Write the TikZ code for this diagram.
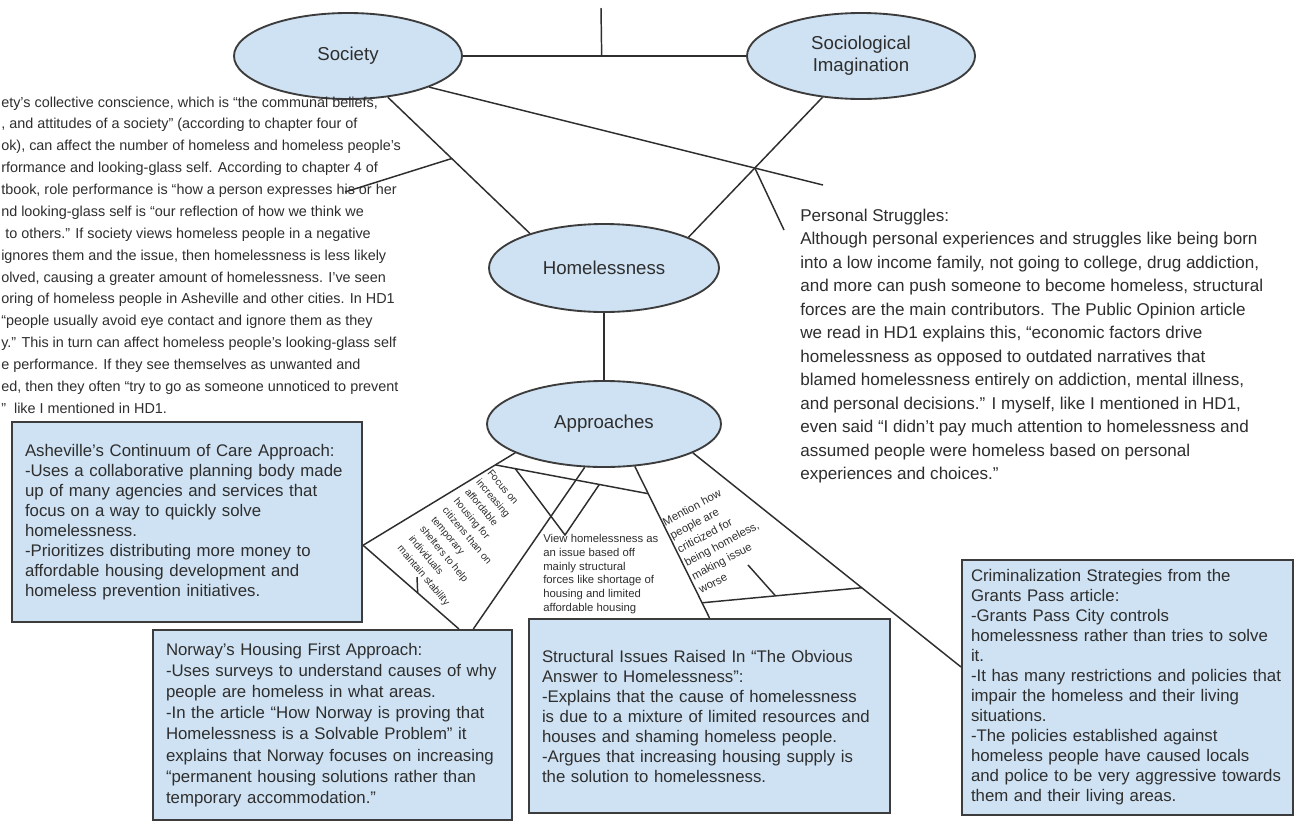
\documentclass[tikz,border=0pt]{standalone}
\usepackage{fontspec}
\setmainfont{Liberation Sans}
\usetikzlibrary{positioning, shapes.geometric, calc}
\definecolor{bubble}{HTML}{CFE2F3}
\definecolor{rim}{HTML}{3C3C3C}
\definecolor{ink}{HTML}{2E2E2E}
\hyphenpenalty=10000
\exhyphenpenalty=10000
\tikzset{
node distance=384.75pt, % centre to centre, used by right of
topic/.style={ellipse, draw=rim, fill=bubble, line width=1.4pt, text=ink, align=center,
    minimum width=171pt, minimum height=64.5pt, font=\fontsize{14}{16.5}\selectfont}, % the four ovals
notebox/.style={rectangle, draw=rim, fill=bubble, line width=1.6pt, text=ink, align=left,
    inner xsep=9.75pt, font=\fontsize{12.6}{15}\selectfont}, % the blue text boxes
note/.style={inner sep=0pt, text=ink, align=left}, % loose text
small note/.style={note, font=\fontsize{8.5}{11}\selectfont},
link/.style={draw=ink, line width=1.1pt},
}

\begin{document}
\begin{tikzpicture}[x=0.75pt, y=-0.75pt]
    \path[use as bounding box, fill=white] (0,0) rectangle (1295,822);

    \node[topic] (society) at (348,56) {Society};
    \node[topic, right of=society] (soc_imag) {Sociological\\Imagination};
    \node[topic, minimum width=172.5pt, minimum height=66pt] (homeless) at (604,268) {Homelessness};
    \node[topic, below of=homeless, node distance=117pt, minimum width=175.5pt] (approaches) {Approaches};

    \node[notebox, text width=243pt, minimum height=150pt] (ashe_box) at (187,522)
        {Asheville’s Continuum of Care Approach:\\-Uses a collaborative planning body made\\up of many agencies and services that\\focus on a way to quickly solve\\homelessness.\\-Prioritizes distributing more money to\\affordable housing development and\\homeless prevention initiatives.};
    \node[notebox, text width=249.75pt, minimum height=142.5pt, font=\fontsize{12.6}{15.9}\selectfont] (norway_box) at (332.5,725)
        {Norway’s Housing First Approach:\\-Uses surveys to understand causes of why\\people are homeless in what areas.\\-In the article “How Norway is proving that\\Homelessness is a Solvable Problem” it\\explains that Norway focuses on increasing\\“permanent housing solutions rather than\\temporary accommodation.”};
    \node[notebox, text width=251.25pt, minimum height=145.5pt] (struct_box) at (709.5,716)
        {Structural Issues Raised In “The Obvious\\Answer to Homelessness”:\\-Explains that the cause of homelessness\\is due to a mixture of limited resources and\\houses and shaming homeless people.\\-Argues that increasing housing supply is\\the solution to homelessness.};
    \node[notebox, text width=234.75pt, inner xsep=6.75pt, minimum height=191.25pt] (crim_box) at (1127.5,687.5)
        {Criminalization Strategies from the\\Grants Pass article:\\-Grants Pass City controls\\homelessness rather than tries to solve\\it.\\-It has many restrictions and policies that\\impair the homeless and their living\\situations.\\-The policies established against\\homeless people have caused locals\\and police to be very aggressive towards\\them and their living areas.};

    % loose text
    \node[note, anchor=west, font=\fontsize{10.8}{16.4}\selectfont] (conscience) at (1,255)
        {ety’s collective conscience, which is “the communal beliefs,\\, and attitudes of a society” (according to chapter four of\\ok), can affect the number of homeless and homeless people’s\\rformance and looking-glass self. According to chapter 4 of\\tbook, role performance is “how a person expresses his or her\\nd looking-glass self is “our reflection of how we think we\\\ to others.” If society views homeless people in a negative\\ignores them and the issue, then homelessness is less likely\\olved, causing a greater amount of homelessness. I’ve seen\\oring of homeless people in Asheville and other cities. In HD1\\“people usually avoid eye contact and ignore them as they\\y.” This in turn can affect homeless people’s looking-glass self\\e performance. If they see themselves as unwanted and\\ed, then they often “try to go as someone unnoticed to prevent\\”\ \ like I mentioned in HD1.};
    \node[note, anchor=west, font=\fontsize{12.8}{17.6}\selectfont] (struggles) at (800,346)
        {Personal Struggles:\\Although personal experiences and struggles like being born\\into a low income family, not going to college, drug addiction,\\and more can push someone to become homeless, structural\\forces are the main contributors. The Public Opinion article\\we read in HD1 explains this, “economic factors drive\\homelessness as opposed to outdated narratives that\\blamed homelessness entirely on addiction, mental illness,\\and personal decisions.” I myself, like I mentioned in HD1,\\even said “I didn’t pay much attention to homelessness and\\assumed people were homeless based on personal\\experiences and choices.”};
    \node[small note, rotate=-50, font=\fontsize{7.6}{11}\selectfont] (focus) at (468,538)
        {Focus on\\increasing\\affordable\\housing for\\citizens than on\\temporary\\shelters to help\\individuals\\maintain stability};
    \node[small note, anchor=west, font=\fontsize{8.5}{10.4}\selectfont] (view) at (543,574)
        {View homelessness as\\an issue based off\\mainly structural\\forces like shortage of\\housing and limited\\affordable housing};
    \node[small note, rotate=28, font=\fontsize{8.5}{11.5}\selectfont] (mention) at (718,537)
        {Mention how\\people are\\criticized for\\being homeless,\\making issue\\worse};

    % top of the map
    \coordinate (title) at (601,8);
    \draw[link] (society) -- coordinate[pos=.49] (top_mid) (soc_imag);
    \draw[link] (top_mid) -- (title);
    \draw[link] (society.314) -- coordinate[pos=.45] (soc_branch) (homeless.155);
    \coordinate (conscience_tip) at (345,192);
    \draw[link] (soc_branch) -- (conscience_tip);
    \draw[link] (soc_imag.227) -- (homeless.20);
    \coordinate (struggles_tip) at (823,185);
    \draw[link] (society.339) -- (struggles_tip);
    \coordinate (cross) at (intersection of soc_imag.227--homeless.20 and society.339--struggles_tip);
    \coordinate (struggles_mark) at (784,230);
    \draw[link] (cross) -- (struggles_mark);
    \draw[link] (homeless) -- (approaches);

    % approaches to the boxes
    \coordinate (ashe_pt) at ($(ashe_box.north east)!.615!(ashe_box.south east)$);
    \coordinate (norway_l) at ($(norway_box.north west)!.85!(norway_box.north east)$);
    \coordinate (norway_r) at ($(norway_box.north west)!.89!(norway_box.north east)$);
    \coordinate (crim_pt) at ($(crim_box.north west)!.42!(crim_box.south west)$);
    \draw[link] (approaches.198) -- coordinate[pos=.13] (a_left) (ashe_pt);
    \draw[link] (ashe_pt) -- coordinate[pos=.57] (tick_base) (norway_l);
    \coordinate (tick_end) at (417,577);
    \draw[link] (tick_base) -- (tick_end);
    \draw[link] (approaches.246) -- (norway_r);
    \draw[link] (approaches.306) -- coordinate[pos=.18] (a_mid) coordinate[pos=.9] (a_low) (struct_box.north);
    \draw[link] (a_left) -- coordinate[pos=.13] (v_left) coordinate[pos=.68] (v_right) (a_mid);
    \coordinate (view_tip) at (565,535);
    \draw[link] (v_left) -- (view_tip) -- (v_right);
    \draw[link] (approaches.342) -- coordinate[pos=.63] (a_right) (crim_pt);
    \draw[link] (a_low) -- coordinate[pos=.46] (m_base) (a_right);
    \coordinate (mention_tip) at (748,565);
    \draw[link] (mention_tip) -- (m_base);
\end{tikzpicture}
\end{document}
